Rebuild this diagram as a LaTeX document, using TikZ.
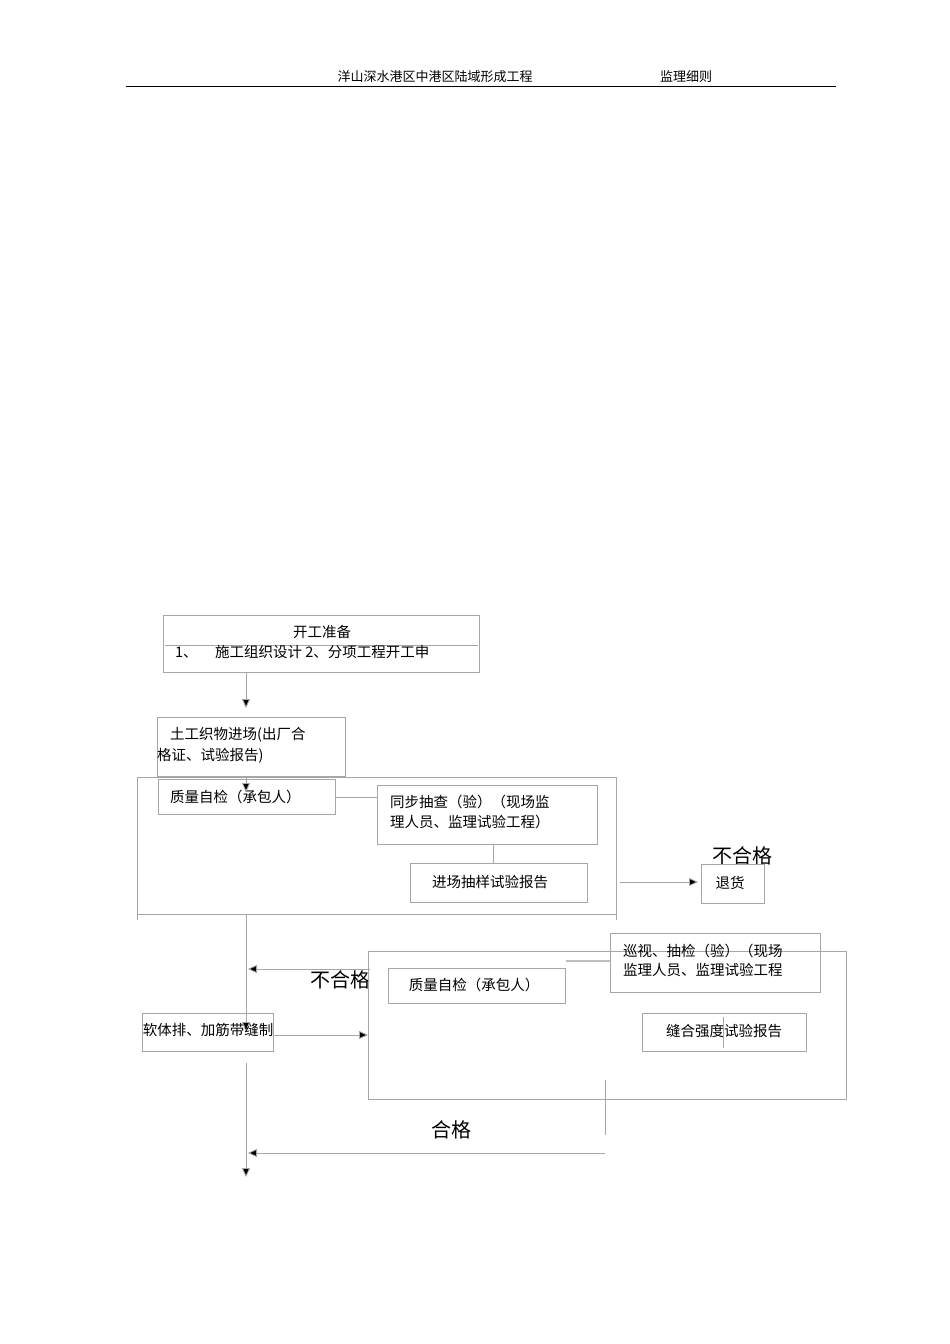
\documentclass[tikz,border=0pt]{standalone}
\usepackage{fontspec}
\setmainfont{Noto Sans CJK SC}
\usetikzlibrary{arrows.meta}
\begin{document}
\begin{tikzpicture}[x=1pt,y=-1pt,
  bx/.style={draw=black!35,line width=0.8pt},
  ln/.style={draw=black!35,line width=0.8pt},
  ar/.style={draw=black!35,line width=0.8pt,-{Triangle[fill=black,length=9pt,width=8pt]}},
  tx/.style={font=\fontsize{14.5}{19}\selectfont,inner sep=0pt,anchor=west},
  big/.style={font=\fontsize{20}{24}\selectfont,inner sep=0pt}]
\useasboundingbox (0,0) rectangle (950,1344);
% header
\node[font=\fontsize{13}{15}\selectfont\itshape,inner sep=0pt] (h1) at (435,77) {洋山深水港区中港区陆域形成工程};
\node[font=\fontsize{13}{15}\selectfont\itshape,inner sep=0pt] (h2) at (686,77) {监理细则};
\draw[line width=1pt] (126,86) -- (836,86);
% box 1
\draw[bx] (163,615) rectangle (479,672);
\node (b1) at (321,672) {};
\node[tx,anchor=center] (t1) at (322,632) {开工准备};
\draw[ln] (165,645) -- (478,645);
\node[tx] (t1b) at (175,652) {1、\hspace{1.2em}施工组织设计 2、分项工程开工申};
\coordinate (a1s) at (246,672);
\coordinate (a1e) at (246,708);
\draw[ar] (a1s) -- (a1e);
% box 2
\draw[bx] (157,717) rectangle (345,776);
\node[tx] (t2) at (170,735) {土工织物进场(出厂合};
\node[tx] (t2b) at (157,756) {格证、试验报告)};
% big box 1
\draw[bx] (137,920) -- (137,777) -- (616,777) -- (616,920);
\draw[bx] (137,914) -- (616,914);
\draw[bx] (158,779) rectangle (335,814);
\node[tx] (q1) at (170,797) {质量自检（承包人）};
\coordinate (a2s) at (246,776);
\coordinate (a2e) at (246,792);
\draw[ar] (a2s) -- (a2e);
\draw[ln] (335,797) -- (377,797);
\draw[bx] (377,785) rectangle (597,844);
\node[tx] (s1) at (390,802) {同步抽查（验）（现场监};
\node[tx] (s2) at (390,822) {理人员、监理试验工程）};
\draw[ln] (493,844) -- (493,863);
\draw[bx] (410,863) rectangle (587,902);
\node[tx,anchor=center] (jc) at (490,882) {进场抽样试验报告};
\coordinate (a3s) at (620,882);
\coordinate (a3e) at (698,882);
\draw[ar] (a3s) -- (a3e);
\node[big] (bh1) at (742,856) {不合格};
\draw[bx] (701,864) rectangle (764,903);
\node[tx,anchor=center] (th) at (730,883) {退货};
% left spine
\coordinate (sp1) at (246,914);
\coordinate (sp2) at (246,1031);
\draw[ar] (sp1) -- (sp2);
\coordinate (a4s) at (370,969);
\coordinate (a4e) at (248,969);
\draw[ar] (a4s) -- (a4e);
\node[big] (bh2) at (340,980) {不合格};
\draw[bx] (142,1013) rectangle (273,1051);
\node[tx,anchor=center] (rt) at (208,1030) {软体排、加筋带缝制};
\coordinate (a5s) at (273,1035);
\coordinate (a5e) at (368,1035);
\draw[ar] (a5s) -- (a5e);
% big box 2
\draw[bx] (368,951) rectangle (846,1099);
\draw[bx] (388,968) rectangle (565,1003);
\node[tx,anchor=center] (q2) at (474,985) {质量自检（承包人）};
\draw[draw=black!25,line width=2pt] (566,961) -- (610,961);
\draw[bx,fill=white,fill opacity=0] (610,933) rectangle (820,992);
\node[tx] (x1) at (623,951) {巡视、抽检（验）（现场};
\node[tx] (x2) at (623,970) {监理人员、监理试验工程};
\draw[bx] (642,1013) rectangle (806,1051);
\node[tx,anchor=center] (fh) at (724,1031) {缝合强度试验报告};
\draw[ln] (723,1017) -- (723,1048);
\draw[ln] (605,1080) -- (605,1135);
\node[big] (hg) at (451,1130) {合格};
\coordinate (a6s) at (605,1153);
\coordinate (a6e) at (248,1153);
\draw[ar] (a6s) -- (a6e);
\coordinate (sp3) at (246,1063);
\coordinate (sp4) at (246,1177);
\draw[ar] (sp3) -- (sp4);
\end{tikzpicture}
\end{document}
